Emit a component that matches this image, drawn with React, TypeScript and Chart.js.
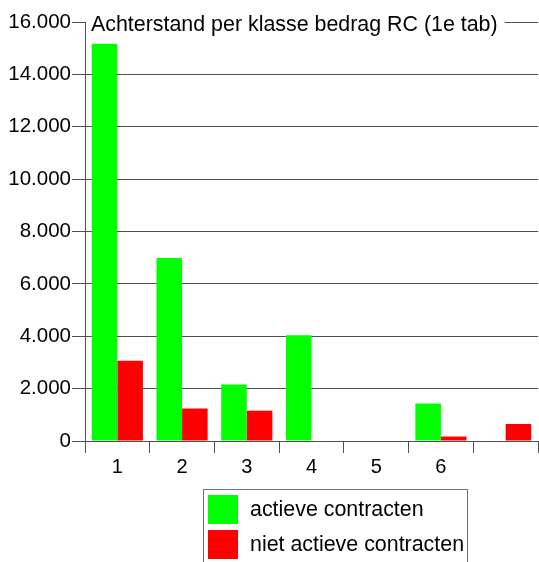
import React, { useEffect, useRef } from 'react';
import { Chart, registerables } from 'chart.js';

Chart.register(...registerables);

const categories = ['1', '2', '3', '4', '5', '6', ''];
const activeValues = [15170, 6990, 2160, 4040, null, 1430, null];
const inactiveValues = [3065, 1240, 1160, null, null, 170, 650];
const seriesLabels = ['actieve contracten', 'niet actieve contracten'];
const seriesColors = ['#00ff00', '#ff0000'];
const chartTitle = 'Achterstand per klasse bedrag RC (1e tab)';
const yMax = 16000;
const yStep = 2000;

const FONT = '"Liberation Sans", Arial, Helvetica, sans-serif';
const LINE = '#505050';

function fmt(v: number): string {
  if (v === 0) return '0';
  const th = Math.floor(v / 1000);
  const rest = v % 1000;
  return th > 0 ? th + '.' + String(rest).padStart(3, '0') : String(rest);
}

const overlayPlugin = {
  id: 'overlay',
  afterDraw(chart: any) {
    const ctx = chart.ctx as CanvasRenderingContext2D;
    const { left, top } = chart.chartArea;
    ctx.save();
    // title over the top gridline
    ctx.font = '21.4px ' + FONT;
    const w = ctx.measureText(chartTitle).width;
    ctx.fillStyle = '#ffffff';
    ctx.fillRect(left + 1, top - 11, w + 12, 22);
    ctx.fillStyle = '#000000';
    ctx.textBaseline = 'alphabetic';
    ctx.textAlign = 'left';
    ctx.fillText(chartTitle, left + 6, top + 9);

    // legend
    const ds = chart.data.datasets;
    ctx.strokeStyle = '#707070';
    ctx.lineWidth = 1;
    ctx.strokeRect(203.5, 489.5, 264, 100);
    ctx.textBaseline = 'middle';
    ds.forEach((d: any, i: number) => {
      const y = 495 + i * 35;
      ctx.fillStyle = d.backgroundColor;
      ctx.fillRect(208, y, 30, 29);
      ctx.fillStyle = '#000000';
      ctx.fillText(d.label, 250, y + 15);
    });
    ctx.restore();
  },
};

export default function App() {
  const ref = useRef<HTMLCanvasElement | null>(null);
  useEffect(() => {
    if (!ref.current) return;
    const chart = new Chart(ref.current, {
      type: 'bar',
      data: {
        labels: categories,
        datasets: [
          {
            label: seriesLabels[0],
            data: activeValues,
            backgroundColor: seriesColors[0],
            borderWidth: 0,
            categoryPercentage: 0.79,
            barPercentage: 1,
          },
          {
            label: seriesLabels[1],
            data: inactiveValues,
            backgroundColor: seriesColors[1],
            borderWidth: 0,
            categoryPercentage: 0.79,
            barPercentage: 1,
          },
        ],
      },
      options: {
        responsive: false,
        animation: false,
        layout: { padding: { top: 22, right: 1, bottom: 0, left: 0 } },
        plugins: {
          legend: { display: false },
          title: { display: false },
          tooltip: { enabled: false },
        },
        scales: {
          x: {
            offset: true,
            grid: {
              offset: true,
              drawOnChartArea: false,
              drawTicks: true,
              tickLength: 12,
              color: LINE,
              lineWidth: 1,
            },
            border: { display: true, color: LINE, width: 1 },
            ticks: {
              color: '#000000',
              font: { family: FONT, size: 20 },
              padding: 2,
            },
            afterFit(scale: any) {
              scale.height = 121;
            },
          },
          y: {
            min: 0,
            max: yMax,
            grid: {
              color: LINE,
              lineWidth: 1,
              drawTicks: true,
              tickLength: 13,
            },
            border: { display: true, color: LINE, width: 1 },
            ticks: {
              stepSize: yStep,
              color: '#000000',
              font: { family: FONT, size: 20.5 },
              padding: 1,
              callback: (v: any) => fmt(Number(v)),
            },
            afterFit(scale: any) {
              scale.width = 85;
            },
          },
        },
      },
      plugins: [overlayPlugin],
    } as any);
    return () => chart.destroy();
  }, []);
  return (
    <div style={{ position: 'absolute', left: 0, top: 0, width: 539, height: 562, background: '#fff' }}>
      <canvas ref={ref} width={539} height={562} style={{ display: 'block' }} />
    </div>
  );
}
